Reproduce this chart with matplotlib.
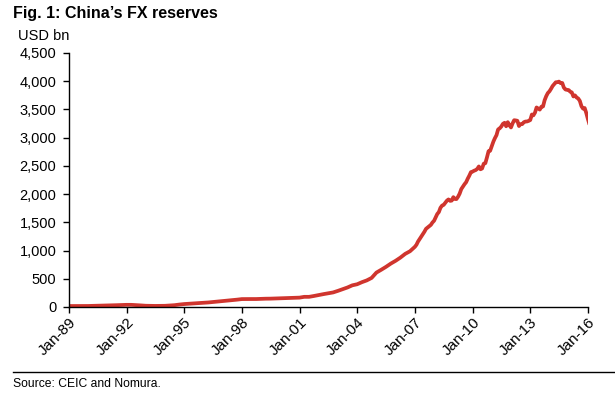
"""
China FX reserves, monthly, USD bn (Fig. 1)
"""

import matplotlib
matplotlib.use("Agg")
import matplotlib.pyplot as plt
import matplotlib.dates as mdates
from matplotlib.ticker import FuncFormatter
from matplotlib.lines import Line2D
import pandas as pd

plt.rcParams['font.family'] = ['Liberation Sans', 'DejaVu Sans']

RED = '#d0352e'

# quarterly points 1989-2006 (end of quarter)
quarter_dates = pd.date_range('1989-01-31', '2006-12-31', freq='QE')
quarter_vals = [
    17, 17, 17, 18,
    20, 22, 24, 27,
    30, 32, 35, 38,
    38, 34, 28, 22,
    20, 19, 20, 21,
    26, 32, 43, 52,
    58, 63, 69, 74,
    80, 88, 97, 105,
    112, 120, 130, 140,
    141, 141, 141, 145,
    147, 148, 151, 155,
    157, 161, 163, 166,
    180, 180, 195, 212,
    228, 242, 258, 286,
    316, 346, 384, 403,
    440, 471, 515, 610,
    659, 711, 769, 819,
    875, 941, 988, 1066,
]

# monthly points Jan 2007 - Jan 2016
month_dates = pd.date_range('2007-01-31', '2016-01-31', freq='ME')
month_vals = [
    1104, 1158, 1202, 1246, 1292, 1333, 1385, 1409, 1434, 1455, 1497, 1528,
    1590, 1647, 1682, 1757, 1797, 1809, 1845, 1884, 1906, 1880, 1885, 1946,
    1913, 1912, 1954, 2009, 2089, 2132, 2175, 2211, 2273, 2328, 2389, 2399,
    2415, 2425, 2447, 2490, 2440, 2454, 2538, 2548, 2648, 2760, 2768, 2847,
    2931, 2990, 3045, 3145, 3166, 3197, 3245, 3263, 3202, 3274, 3221, 3181,
    3254, 3309, 3305, 3299, 3206, 3240, 3240, 3273, 3285, 3287, 3297, 3312,
    3410, 3395, 3443, 3535, 3515, 3497, 3548, 3553, 3663, 3736, 3790, 3821,
    3867, 3914, 3948, 3981, 3984, 3993, 3966, 3969, 3888, 3853, 3847, 3843,
    3813, 3802, 3730, 3748, 3711, 3694, 3651, 3557, 3514, 3525, 3438, 3330,
    3231,
]

dates = [pd.Timestamp('1989-01-01')] + list(quarter_dates) + list(month_dates)
values = [17] + quarter_vals + month_vals

tick_years = list(range(1989, 2017, 3))
y_ticks = list(range(0, 4501, 500))

fig = plt.figure(figsize=(6.15, 3.99), dpi=100)
ax = fig.add_axes([0.112, 0.2306, 0.844, 0.6366])

ax.plot(dates, values, color=RED, linewidth=2.7, solid_capstyle='butt')

ax.set_xlim(pd.Timestamp('1989-01-01'), pd.Timestamp('2016-01-01'))
ax.set_ylim(0, 4500)
ax.set_yticks(y_ticks)
ax.yaxis.set_major_formatter(FuncFormatter(lambda v, p: f"{int(v):,}"))
ax.set_xticks([pd.Timestamp(f'{y}-01-01') for y in tick_years])
ax.xaxis.set_major_formatter(mdates.DateFormatter('Jan-%y'))

for s in ['top', 'right']:
    ax.spines[s].set_visible(False)
for s in ['left', 'bottom']:
    ax.spines[s].set_linewidth(1.0)
    ax.spines[s].set_color('black')

ax.tick_params(axis='y', direction='out', length=4, width=1, labelsize=10.5, pad=5)
ax.tick_params(axis='x', direction='out', length=4, width=1, labelsize=11, pad=2)
for lbl in ax.get_xticklabels():
    lbl.set_rotation(45)
    lbl.set_ha('right')
    lbl.set_va('top')
    lbl.set_rotation_mode('anchor')

fig.text(0.021, 0.985, "Fig. 1: China\u2019s FX reserves", fontsize=11.5,
         fontweight='bold', ha='left', va='top')
fig.text(0.030, 0.928, "USD bn", fontsize=10.5, ha='left', va='top')

fig.add_artist(Line2D([0.021, 1.0], [0.068, 0.068], color='black', linewidth=1.0,
                      transform=fig.transFigure))
fig.text(0.021, 0.038, "Source: CEIC and Nomura.", fontsize=8.7, ha='left', va='center')

fig.savefig('out.png', dpi=100)
plt.close(fig)
